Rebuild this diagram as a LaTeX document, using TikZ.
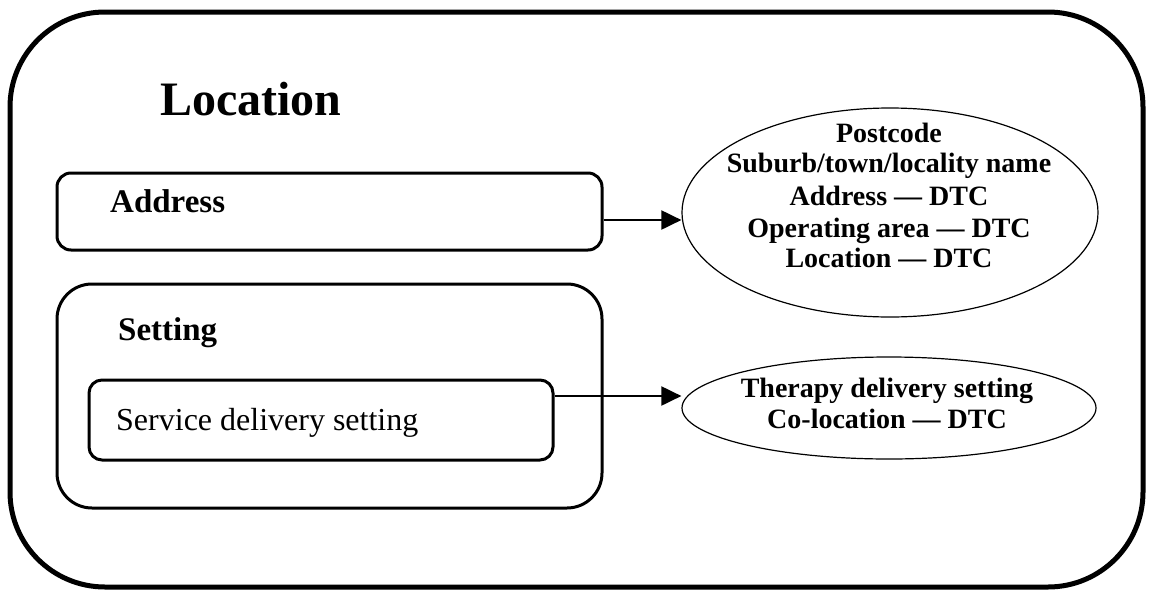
\documentclass[tikz,border=0pt]{standalone}
\usepackage{fontspec}
\usetikzlibrary{shapes.geometric,arrows.meta}
\setmainfont{Liberation Serif}
\begin{document}
\begin{tikzpicture}[x=1pt,y=-1pt,
  outerbox/.style={draw, line width=5pt, rounded corners=95pt, inner sep=0pt},
  group/.style={draw, line width=3pt, inner sep=0pt},
  oval/.style={ellipse, draw, line width=1.2pt, inner sep=0pt},
  label/.style={anchor=base west, inner sep=0pt},
  ovaltext/.style={anchor=base, inner sep=0pt, font=\bfseries\fontsize{28}{32}\selectfont},
  arr/.style={line width=2pt, -{Triangle[length=20pt,width=19pt]}}]
\useasboundingbox (0,0) rectangle (1149,592);

% outer frame
\node[outerbox, minimum width=1133pt, minimum height=575pt] (frame) at (576.5,299.5) {};
\node[label, font=\bfseries\fontsize{48}{56}\selectfont] (title) at (160,115) {Location};

% address group
\node[group, rounded corners=14pt, minimum width=545pt, minimum height=77pt] (addr) at (329.5,211.5) {};
\node[label, font=\bfseries\fontsize{33}{40}\selectfont] (addrlbl) at (110,212) {Address};

% setting group and its inner box
\node[group, rounded corners=35pt, minimum width=545pt, minimum height=224pt] (setting) at (329.5,396) {};
\node[label, font=\bfseries\fontsize{33}{38}\selectfont] (setlbl) at (118,340) {Setting};
\node[group, rounded corners=13pt, minimum width=464pt, minimum height=80pt] (svc) at (321,420) {};
\node[label, font=\fontsize{32}{38}\selectfont] (svclbl) at (116,430) {Service delivery setting};

% attribute ovals
\node[oval, minimum width=416pt, minimum height=209pt] (att1) at (890,212.5) {};
\node[ovaltext] (a1) at (889,142) {Postcode};
\node[ovaltext] (a2) at (889,172) {Suburb/town/locality name};
\node[ovaltext] (a3) at (889,205) {Address --- DTC};
\node[ovaltext] (a4) at (889,237) {Operating area --- DTC};
\node[ovaltext] (a5) at (889,267) {Location --- DTC};

\node[oval, minimum width=414pt, minimum height=102pt] (att2) at (889,408) {};
\node[ovaltext] (b1) at (887,397) {Therapy delivery setting};
\node[ovaltext] (b2) at (887,428) {Co-location --- DTC};

% connectors
\draw[arr] ([yshift=-8.5pt]addr.east) -- ([yshift=-8.5pt]addr.east -| att1.west);
\draw[arr] ([yshift=24pt]svc.east) -- ([yshift=24pt]svc.east -| att2.west);
\end{tikzpicture}
\end{document}
